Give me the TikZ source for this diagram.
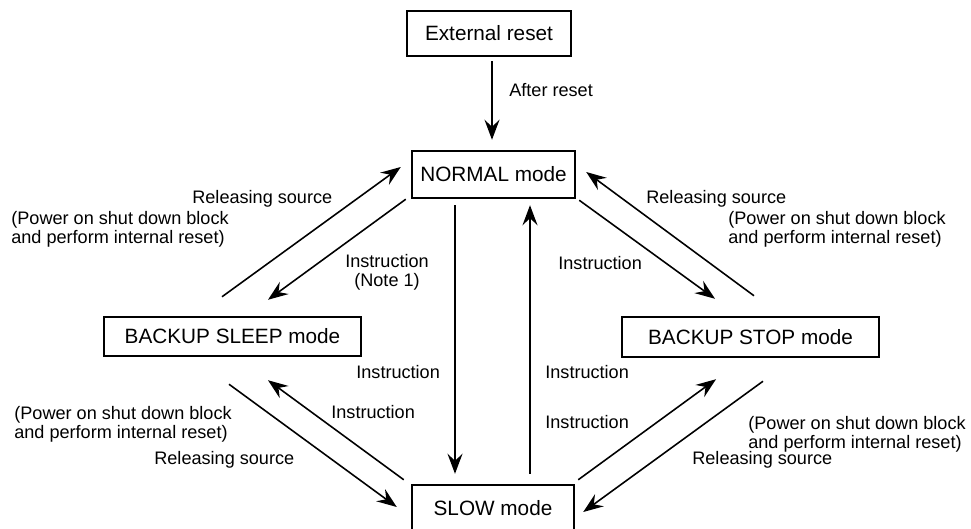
\documentclass[tikz,border=0pt]{standalone}
\usepackage{fontspec}
\setmainfont{Liberation Sans}
\usepackage{tikz}
\usetikzlibrary{calc}
\usetikzlibrary{arrows.meta}
\tikzset{
    modebox/.style = {draw, line width=1.4pt, inner sep=0, font=\fontsize{11.8}{13}\selectfont},
    trans/.style = {line width=0.9pt, -{Stealth[length=4mm, width=3mm, inset=1.4mm]}},
    lbl/.style = {inner sep=0, anchor=west, align=left, font=\fontsize{10.3}{10.9}\selectfont}
}

\begin{document}
\begin{tikzpicture} [x=0.2mm, y=-0.2mm]
    \useasboundingbox (0,0) rectangle (971,529);
    \node[modebox, minimum width=32.8mm, minimum height=9mm] (ext) at (489,33.5) {External reset};
    \node[modebox, minimum width=32.6mm, minimum height=9.4mm] (normal) at (493.5,174.5) {NORMAL mode};
    \node[modebox, minimum width=51.4mm, minimum height=7.8mm] (sleep) at (232.5,336.5) {BACKUP SLEEP mode};
    \node[modebox, minimum width=51.4mm, minimum height=8mm] (stop) at (750.5,337) {BACKUP STOP mode};
    \node[modebox, minimum width=32.4mm, minimum height=9.4mm] (slow) at (493,508.5) {SLOW mode};
    \draw[trans] ($(ext.south)+(3,4)$) -- ($(normal.north)+(-1.5,-10)$);
    \draw[trans] ($(sleep.north)+(-10.5,-19)$) -- ($(normal.west)+(-10,-7.5)$);
    \draw[trans] ($(normal.south west)+(-5,0)$) -- ($(sleep.north)+(35.5,-16)$);
    \draw[trans] ($(stop.north)+(3.5,-20)$) -- ($(normal.east)+(10,-2.5)$);
    \draw[trans] ($(normal.south east)+(3,1)$) -- ($(stop.north)+(-35.5,-17)$);
    \draw[trans] ($(slow.north west)+(-7,-4)$) -- ($(sleep.south)+(35.5,23)$);
    \draw[trans] ($(sleep.south)+(-3.5,27)$) -- ($(slow.west)+(-14,-1.5)$);
    \draw[trans] ($(slow.north east)+(3,-4)$) -- ($(stop.south)+(-34.5,21)$);
    \draw[trans] ($(stop.south)+(12.5,23)$) -- ($(slow.east)+(8,3.5)$);
    \draw[trans] ($(normal.south)+(-38.5,6)$) -- ($(slow.north)+(-38,-10)$);
    \draw[trans] ($(slow.north)+(37,-10)$) -- ($(normal.south)+(36.5,6)$);
    \node[lbl] (afterreset) at (509,90) {After reset};
    \node[lbl] (relUL) at (192,199) {Releasing source};
    \node[lbl] (powUL) at (11,229.5) {(Power on shut down block\\and perform internal reset)};
    \node[lbl, align=center, anchor=center] (note1) at (387,272) {Instruction\\(Note 1)};
    \node[lbl] (relUR) at (646,199) {Releasing source};
    \node[lbl] (powUR) at (728,229.5) {(Power on shut down block\\and perform internal reset)};
    \node[lbl] (insUR) at (558,263) {Instruction};
    \node[lbl] (insCL1) at (356,372) {Instruction};
    \node[lbl] (insCL2) at (331,412) {Instruction};
    \node[lbl] (insCR1) at (545,372) {Instruction};
    \node[lbl] (insCR2) at (545,422) {Instruction};
    \node[lbl] (powLL) at (14,424) {(Power on shut down block\\and perform internal reset)};
    \node[lbl] (relLL) at (154,460) {Releasing source};
    \node[lbl] (powLR) at (748,434.5) {(Power on shut down block\\and perform internal reset)};
    \node[lbl] (relLR) at (692,460) {Releasing source};
\end{tikzpicture}
\end{document}
